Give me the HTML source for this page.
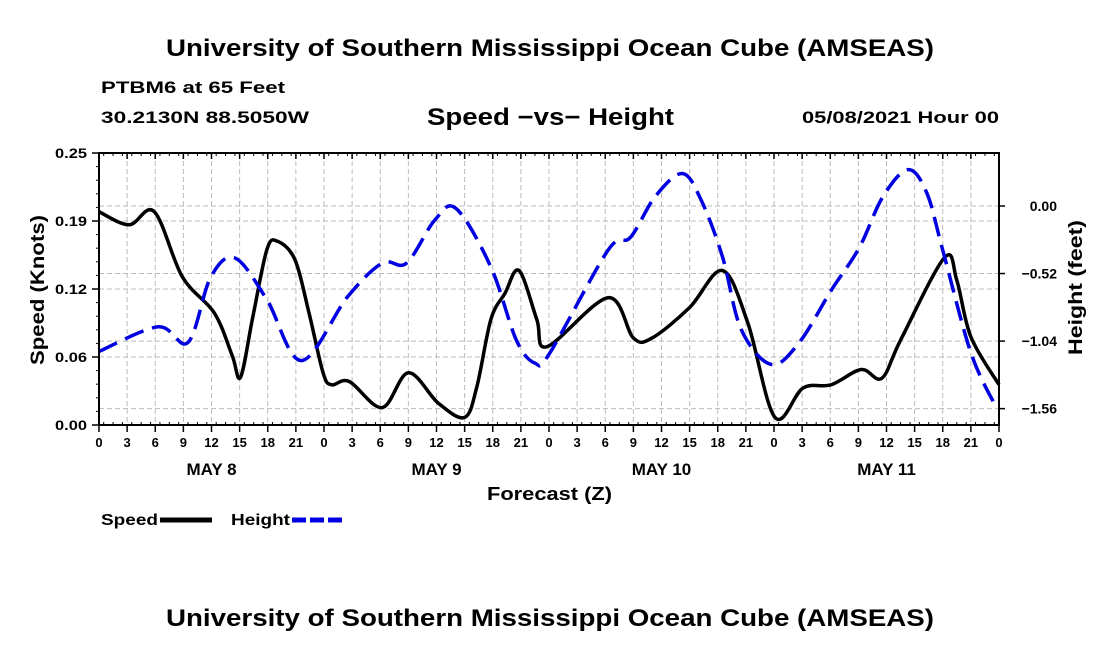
<!DOCTYPE html>
<html><head><meta charset="utf-8"><style>
body{margin:0;background:#fff;}
svg{display:block;font-family:"Liberation Sans",Arial,sans-serif;font-weight:bold;}
</style></head><body>
<svg id="c" width="1100" height="650">
<text x="166" y="56" font-size="24" textLength="768" lengthAdjust="spacingAndGlyphs">University of Southern Mississippi Ocean Cube (AMSEAS)</text>
<text x="101" y="93" font-size="17" textLength="184" lengthAdjust="spacingAndGlyphs">PTBM6 at 65 Feet</text>
<text x="101" y="123" font-size="17" textLength="208" lengthAdjust="spacingAndGlyphs">30.2130N  88.5050W</text>
<text x="427" y="125" font-size="24" textLength="247" lengthAdjust="spacingAndGlyphs">Speed −vs− Height</text>
<text x="802" y="123" font-size="17" textLength="197" lengthAdjust="spacingAndGlyphs">05/08/2021 Hour 00</text>
<text x="166" y="626" font-size="24" textLength="768" lengthAdjust="spacingAndGlyphs">University of Southern Mississippi Ocean Cube (AMSEAS)</text>
<text x="487" y="500" font-size="18" textLength="125" lengthAdjust="spacingAndGlyphs">Forecast (Z)</text>
<text transform="translate(44,365) rotate(-90)" font-size="19" textLength="150" lengthAdjust="spacingAndGlyphs">Speed (Knots)</text>
<text transform="translate(1082,355) rotate(-90)" font-size="19" textLength="135" lengthAdjust="spacingAndGlyphs">Height (feet)</text>
<g>
<text x="101" y="525" font-size="16" textLength="57" lengthAdjust="spacingAndGlyphs">Speed</text>
<line x1="160" y1="520" x2="212" y2="520" stroke="#000" stroke-width="5"/>
<text x="231" y="525" font-size="16" textLength="59" lengthAdjust="spacingAndGlyphs">Height</text>
<line x1="292" y1="520" x2="342" y2="520" stroke="#0000e0" stroke-width="5" stroke-dasharray="14,4"/>
</g>
<g id="g"></g>
</svg>
<script>
const hours=[0,3,6,9,12,15,18,21,0,3,6,9,12,15,18,21,0,3,6,9,12,15,18,21,0,3,6,9,12,15,18,21,0];
const dayLabels=["MAY 8","MAY 9","MAY 10","MAY 11"];
const leftTicks=["0.00","0.06","0.12","0.19","0.25"];
const leftTickVals=[0,0.0625,0.125,0.1875,0.25];
const rightTicks=["0.00","−0.52","−1.04","−1.56"];
const rightTickVals=[0,-0.52,-1.04,-1.56];
const speedT=[0,3.2,5.9,8.9,12.3,14.2,15.1,16.4,17.9,19,20.9,22.4,23.9,24.8,26.7,30.2,33,36.2,39,40.3,41.8,43.3,44.8,46.7,47.8,54.3,57,59,63,66.5,69.2,72.1,75.1,78.1,81.3,83.5,85.5,90.2,91.5,93,96];
const speedV=[0.196,0.184,0.196,0.136,0.103,0.064,0.044,0.099,0.161,0.169,0.152,0.103,0.048,0.037,0.040,0.016,0.048,0.020,0.007,0.035,0.097,0.121,0.142,0.097,0.072,0.117,0.080,0.080,0.108,0.142,0.094,0.007,0.034,0.037,0.051,0.043,0.078,0.154,0.133,0.081,0.037];
const heightT=[0,6.3,9.5,11.9,14.5,17.9,21.6,26.5,30.2,32.8,35.8,38.1,41.8,44.5,46.5,48.1,54.3,56.7,59.3,62.2,64.2,66.5,68.5,71.7,74.7,78.1,81.1,83.6,86.3,88.3,90,93,95.7];
const heightV=[-1.12,-0.93,-1.05,-0.55,-0.40,-0.72,-1.19,-0.70,-0.44,-0.44,-0.11,-0.02,-0.47,-1.03,-1.21,-1.13,-0.34,-0.24,0.07,0.25,0.05,-0.39,-0.95,-1.22,-1.05,-0.65,-0.32,0.07,0.28,0.10,-0.34,-1.13,-1.55];
const X0=99,X1=999,Y0=153,Y1=425;
const xs=h=>X0+(X1-X0)*h/96;
const ysL=v=>Y1-(Y1-Y0)*v/0.25;
const HT=0.408,HB=-1.686;
const ysR=v=>Y0+(Y1-Y0)*(HT-v)/(HT-HB);
const g=document.getElementById('g');
const NS='http://www.w3.org/2000/svg';
function mk(t,a){const e=document.createElementNS(NS,t);for(const k in a)e.setAttribute(k,a[k]);g.appendChild(e);return e;}
for(let i=1;i<32;i++){const l=mk('line',{x1:xs(i*3),x2:xs(i*3),y1:Y0,y2:Y1,stroke:'#bbb','stroke-dasharray':'5,3'});

}
leftTickVals.forEach((v,i)=>{const y=ysL(v);
if(i>0&&i<4){const l=mk('line',{x1:X0,x2:X1,y1:y,y2:y,stroke:'#bbb','stroke-dasharray':'5,3'});

}
mk('line',{x1:X0-7,x2:X0,y1:y,y2:y,stroke:'#000','stroke-width':1.5});
const t=mk('text',{x:X0-44,y:y+5,'font-size':14,textLength:32,lengthAdjust:'spacingAndGlyphs'});t.textContent=leftTicks[i];

});
for(let i=1;i<20;i++){const y=Y1-(Y1-Y0)*i/20;mk('line',{x1:X0-3,x2:X0,y1:y,y2:y,stroke:'#000'});}
rightTickVals.forEach((v,i)=>{const y=ysR(v);
const l=mk('line',{x1:X0,x2:X1,y1:y,y2:y,stroke:'#bbb','stroke-dasharray':'5,3'});


mk('line',{x1:X1,x2:X1+6,y1:y,y2:y,stroke:'#000','stroke-width':1.5});
const t=mk('text',{x:X1+58,y:y+5,'text-anchor':'end','font-size':14});t.textContent=rightTicks[i];

});
hours.forEach((h,i)=>{const x=xs(i*3);
mk('line',{x1:x,x2:x,y1:Y1,y2:Y1+7,stroke:'#000','stroke-width':1.5});
mk('line',{x1:x,x2:x,y1:Y0,y2:Y0+6,stroke:'#000','stroke-width':1.5});
const t=mk('text',{x:x,y:Y1+22,'text-anchor':'middle','font-size':13});t.textContent=h;

});
for(let i=0;i<96;i++){const x=xs(i+0.5);mk('line',{x1:x,x2:x,y1:Y0,y2:Y0+3,stroke:'#000'});mk('line',{x1:x,x2:x,y1:Y1,y2:Y1-3,stroke:'#000'});}
dayLabels.forEach((d,i)=>{const t=mk('text',{x:xs(12+24*i),y:Y1+50,'text-anchor':'middle','font-size':17});t.textContent=d;

});
function path(T,V,ys){const P=T.map((t,i)=>[xs(t),ys(V[i])]);let d='M'+P[0][0]+','+P[0][1];
for(let i=0;i<P.length-1;i++){const p0=P[Math.max(0,i-1)],p1=P[i],p2=P[i+1],p3=P[Math.min(P.length-1,i+2)];
const c1=[p1[0]+(p2[0]-p0[0])/6,p1[1]+(p2[1]-p0[1])/6],c2=[p2[0]-(p3[0]-p1[0])/6,p2[1]-(p3[1]-p1[1])/6];
d+=` C${c1[0]},${c1[1]} ${c2[0]},${c2[1]} ${p2[0]},${p2[1]}`;}return d;}
const sp=mk('path',{d:path(speedT,speedV,ysL),fill:'none',stroke:'#000','stroke-width':3.5,'stroke-linejoin':'round'});


const hp=mk('path',{d:path(heightT,heightV,ysR),fill:'none',stroke:'#0000e0','stroke-width':3.5,'stroke-dasharray':'20,9'});


const fr=mk('rect',{x:X0,y:Y0,width:X1-X0,height:Y1-Y0,fill:'none',stroke:'#000','stroke-width':2});


</script>
</body></html>
